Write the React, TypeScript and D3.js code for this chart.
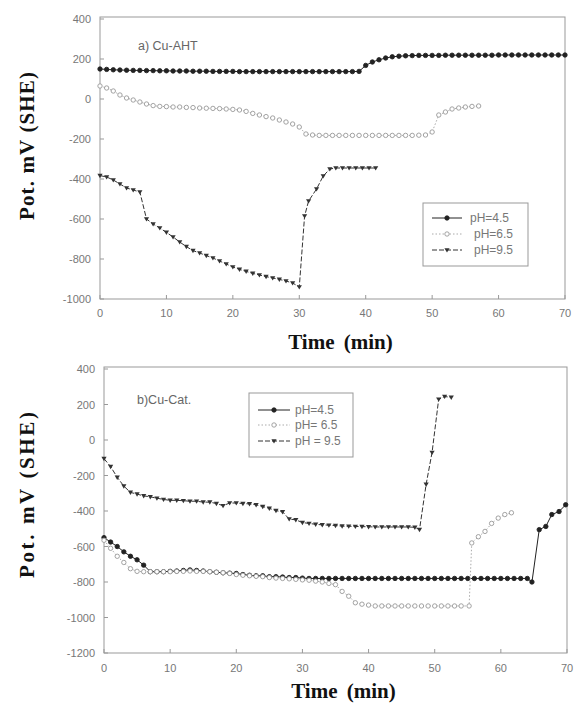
import React from "react";
import * as d3 from "d3";

// ---- data (time in min, potential in mV vs SHE) ----
const aT45 = d3.range(0, 71);
const aV45 = [150, 148, 146, 145, 144, 143, 143, 142, 142, 141, 141, 140, 140, 140, 139, 139, 139, 138, 138, 138,
  138, 137, 137, 137, 137, 137, 137, 137, 137, 137, 137, 137, 137, 137, 137, 137, 137, 137, 137, 138,
  168, 185, 196, 205, 211, 214, 216, 217, 218, 218, 218, 218, 219, 219, 219, 219, 219, 219, 219, 219,
  220, 220, 220, 220, 220, 220, 220, 220, 220, 220, 220];

const aT65 = [0, 1, 2, 3, 4, 5, 6, 7, 8, 9, 10, 11, 12, 13, 14, 15, 16, 17, 18, 19, 20, 21, 22, 23, 24, 25, 26, 27, 28, 29, 30,
  31, 32, 33, 34, 35, 36, 37, 38, 39, 40, 41, 42, 43, 44, 45, 46, 47, 48, 49, 50, 51, 52, 53, 54, 55, 56, 57];
const aV65 = [65, 55, 40, 20, 5, -5, -15, -25, -33, -37, -38, -40, -40, -42, -43, -45, -46, -47, -48, -50, -52, -55, -62, -72, -80, -88, -95, -105, -115, -125, -140,
  -175, -180, -182, -182, -182, -182, -182, -182, -182, -182, -182, -182, -182, -182, -182, -182, -182, -181, -180, -165, -80, -65, -50, -45, -40, -37, -35];

const aT95 = [0, 1, 2, 3, 4, 5, 6, 7, 8, 9, 10, 11, 12, 13, 14, 15, 16, 17, 18, 19, 20, 21, 22, 23, 24, 25, 26, 27, 28, 29, 30,
  30.8, 31.4, 32.6, 33.6, 34.6, 35.5, 36.5, 37.5, 38.5, 39.5, 40.5, 41.5];
const aV95 = [-383, -390, -405, -425, -445, -455, -465, -600, -625, -645, -667, -690, -715, -738, -758, -770, -783, -795, -810, -825, -840, -852, -862, -872, -880, -888, -895, -902, -910, -920, -940,
  -585, -510, -450, -385, -350, -345, -345, -345, -345, -345, -345, -345];

const bT45 = [0, 1, 2, 3, 4, 5, 6, 7, 8, 9, 10, 11, 12, 13, 14, 15, 16, 17, 18, 19, 20, 21, 22, 23, 24, 25, 26, 27, 28, 29, 30,
  31, 32, 33, 34, 35, 36, 37, 38, 39, 40, 41, 42, 43, 44, 45, 46, 47, 48, 49, 50, 51, 52, 53, 54, 55, 56, 57, 58, 59, 60,
  61, 62, 63, 64, 64.7, 65.8, 66.8, 67.7, 68.8, 69.8];
const bV45 = [-550, -575, -600, -630, -655, -675, -705, -742, -742, -742, -740, -738, -735, -732, -735, -738, -742, -745, -748, -750, -752, -758, -762, -765, -765, -770, -770, -772, -775, -775, -778,
  -780, -780, -780, -780, -780, -780, -780, -780, -780, -780, -780, -780, -780, -780, -780, -780, -780, -780, -780, -780, -780, -780, -780, -780, -780, -780, -780, -780, -780, -780,
  -780, -780, -780, -780, -800, -505, -487, -420, -403, -365];

const bT65 = [0, 1, 2, 3, 4, 5, 6, 7, 8, 9, 10, 11, 12, 13, 14, 15, 16, 17, 18, 19, 20, 21, 22, 23, 24, 25, 26, 27, 28, 29, 30,
  31, 32, 33, 34, 35, 36, 37, 38, 39, 40, 41, 42, 43, 44, 45, 46, 47, 48, 49, 50, 51, 52, 53, 54, 55.2, 55.6, 56.6, 57.6, 58.6, 59.6, 60.6, 61.6];
const bV65 = [-565, -610, -655, -690, -725, -740, -742, -742, -742, -742, -742, -740, -740, -738, -740, -740, -742, -745, -748, -752, -758, -762, -765, -768, -770, -775, -778, -780, -782, -785, -788,
  -790, -795, -800, -808, -815, -853, -880, -917, -925, -930, -935, -935, -935, -935, -935, -935, -935, -935, -935, -935, -935, -935, -935, -935, -935, -580, -545, -515, -470, -440, -420, -410];

const bT95 = [0, 1, 2, 3, 4, 5, 6, 7, 8, 9, 10, 11, 12, 13, 14, 15, 16, 17, 18, 19, 20, 21, 22, 23, 24, 25, 26, 27, 28, 29, 30,
  31, 32, 33, 34, 35, 36, 37, 38, 39, 40, 41, 42, 43, 44, 45, 46, 47, 47.7, 48.7, 49.6, 50.6, 51.5, 52.5];
const bV95 = [-105, -150, -210, -260, -295, -305, -315, -320, -328, -335, -340, -340, -342, -345, -345, -350, -350, -358, -370, -355, -355, -358, -360, -365, -375, -385, -398, -405, -445, -450, -465,
  -470, -475, -478, -480, -482, -485, -486, -487, -488, -489, -490, -490, -490, -490, -490, -490, -492, -505, -250, -70, 230, 245, 240];

const xTicks = [0, 10, 20, 30, 40, 50, 60, 70];
const aYTicks = [400, 200, 0, -200, -400, -600, -800, -1000];
const bYTicks = [400, 200, 0, -200, -400, -600, -800, -1000, -1200];
const aLegend = ["pH=4.5", "pH=6.5", "pH=9.5"];
const bLegend = ["pH=4.5", "pH= 6.5", "pH = 9.5"];

const zip = (t: number[], v: number[]) => t.map((x, i) => [x, v[i]] as [number, number]);

const STYLES = [
  { stroke: "#222", dash: "none", marker: "dot", mfill: "#222", mstroke: "#222" },
  { stroke: "#aaa", dash: "1.5,2", marker: "dot", mfill: "#fff", mstroke: "#999" },
  { stroke: "#333", dash: "5,2", marker: "tri", mfill: "#333", mstroke: "#333" },
];

function Marker({ x, y, s }: { x: number; y: number; s: (typeof STYLES)[number] }) {
  if (s.marker === "tri") {
    return <path d={`M${x - 2.6},${y - 1.8}L${x + 2.6},${y - 1.8}L${x},${y + 2.6}Z`} fill={s.mfill} />;
  }
  return <circle cx={x} cy={y} r={2.2} fill={s.mfill} stroke={s.mstroke} strokeWidth={0.9} />;
}

const sans = "'Liberation Sans', Arial, sans-serif";
const serif = "'Liberation Serif', 'Times New Roman', serif";

function Panel(props: {
  x0: number; x1: number; yTop: number; yBot: number; frameTop: number;
  yDomain: [number, number]; yTicks: number[]; series: [number, number][][];
  label: string; labelX: number; labelY: number;
  legend: string[]; lx: number; ly: number; lw: number; lh: number; lineX0: number; lineX1: number; rows: number[]; textX: number[];
  xTitleY: number; yTitleY: number; yTitleLen: number; tickLabelY: number;
}) {
  const p = props;
  const x = d3.scaleLinear().domain([0, 70]).range([p.x0, p.x1]);
  const y = d3.scaleLinear().domain(p.yDomain).range([p.yBot, p.yTop]);
  const line = d3.line<[number, number]>().x((d) => x(d[0])).y((d) => y(d[1]));
  return (
    <g>
      <rect x={p.x0} y={p.frameTop} width={p.x1 - p.x0} height={p.yBot - p.frameTop} fill="none" stroke="#999" strokeWidth={1} />
      {xTicks.map((t) => (
        <g key={"xt" + t}>
          <line x1={x(t)} x2={x(t)} y1={p.yBot} y2={p.yBot - 4} stroke="#999" />
          <text x={x(t)} y={p.tickLabelY} textAnchor="middle" fontFamily={sans} fontSize={11} fill="#777">{t}</text>
        </g>
      ))}
      {p.yTicks.map((t) => (
        <g key={"yt" + t}>
          <line x1={p.x0} x2={p.x0 + 4} y1={y(t)} y2={y(t)} stroke="#999" />
          <text x={p.x0 - 9} y={y(t) + 4} textAnchor="end" fontFamily={sans} fontSize={11} fill="#777">{t}</text>
        </g>
      ))}
      <text x={p.labelX} y={p.labelY} fontFamily={sans} fontSize={12.5} fill="#666">{p.label}</text>
      {p.series.map((d, i) => (
        <g key={"s" + i}>
          <path d={line(d) || ""} fill="none" stroke={STYLES[i].stroke} strokeWidth={1} strokeDasharray={STYLES[i].dash} />
          {d.map((pt, j) => (
            <Marker key={j} x={x(pt[0])} y={y(pt[1])} s={STYLES[i]} />
          ))}
        </g>
      ))}
      <rect x={p.lx} y={p.ly} width={p.lw} height={p.lh} fill="#fff" stroke="#999" />
      {p.legend.map((name, i) => (
        <g key={"lg" + i}>
          <line x1={p.lineX0} x2={p.lineX1} y1={p.rows[i]} y2={p.rows[i]} stroke={STYLES[i].stroke} strokeDasharray={STYLES[i].dash} />
          <Marker x={(p.lineX0 + p.lineX1) / 2} y={p.rows[i]} s={STYLES[i]} />
          <text x={p.textX[i]} y={p.rows[i] + 4} fontFamily={sans} fontSize={12} fill="#777" style={{ whiteSpace: "pre" }}>{name}</text>
        </g>
      ))}
      <text x={(p.x0 + p.x1) / 2 + 8} y={p.xTitleY} textAnchor="middle" fontFamily={serif} fontWeight="bold" fontSize={21} fill="#111" wordSpacing={4}>Time (min)</text>
      <text transform={`translate(34,${p.yTitleY}) rotate(-90)`} textAnchor="middle" fontFamily={serif} fontWeight="bold" fontSize={21} fill="#111"
        textLength={p.yTitleLen} lengthAdjust="spacing">Pot. mV (SHE)</text>
    </g>
  );
}

export default function App() {
  return (
    <svg width={575} height={705} style={{ position: "absolute", left: 0, top: 0, background: "#fff" }}>
      <Panel
        x0={100} x1={565} yTop={19} yBot={299} frameTop={17}
        yDomain={[-1000, 400]} yTicks={aYTicks}
        series={[zip(aT45, aV45), zip(aT65, aV65), zip(aT95, aV95)]}
        label="a) Cu-AHT" labelX={138} labelY={50}
        legend={aLegend} lx={423} ly={203} lw={105} lh={63} lineX0={432} lineX1={462} rows={[218, 234, 250]} textX={[470, 474, 474]}
        xTitleY={349} yTitleY={146} yTitleLen={148} tickLabelY={317}
      />
      <Panel
        x0={104} x1={567} yTop={369} yBot={653} frameTop={367}
        yDomain={[-1200, 400]} yTicks={bYTicks}
        series={[zip(bT45, bV45), zip(bT65, bV65), zip(bT95, bV95)]}
        label="b)Cu-Cat." labelX={137} labelY={404}
        legend={bLegend} lx={249} ly={393} lw={104} lh={64} lineX0={258} lineX1={290} rows={[410, 425, 441]} textX={[295, 295, 295]}
        xTitleY={698} yTitleY={495} yTitleLen={166} tickLabelY={672}
      />
    </svg>
  );
}
